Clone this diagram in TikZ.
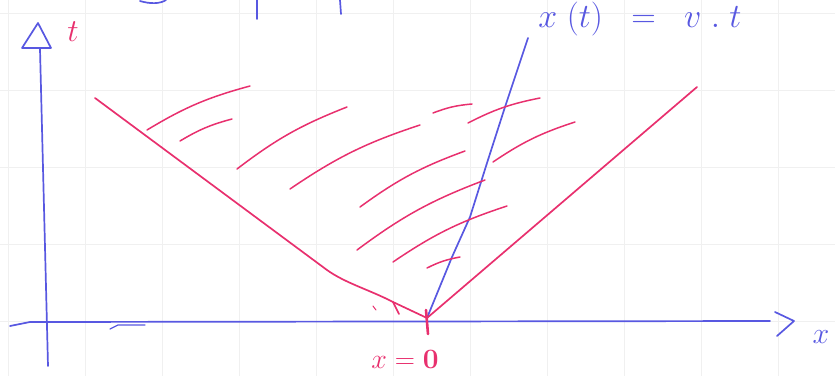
\RequirePackage{fix-cm}
\documentclass[tikz,border=0pt]{standalone}
\usepackage{amsmath}
\usepackage{amssymb}
\usepackage{xcolor}
\usepackage{tikz}

\definecolor{penblue}{RGB}{88,88,225}
\definecolor{penpink}{RGB}{232,48,110}
\tikzset{
  bluepen/.style={draw=penblue, line width=1.7pt, line cap=round, line join=round},
  pinkpen/.style={draw=penpink, line width=1.7pt, line cap=round, line join=round},
  hatch/.style={draw=penpink, line width=1.5pt, line cap=round},
  bluetext/.style={text=penblue, inner sep=0pt},
  pinktext/.style={text=penpink, inner sep=0pt},
}

\begin{document}
\begin{tikzpicture}[x=1pt,y=-1pt]
\useasboundingbox (0,0) rectangle (835,376);
\foreach \gx in {8,85,...,835}
    \draw[black!6, line width=0.5pt] (\gx,0) -- (\gx,376);
\foreach \gy in {13,90,...,376}
    \draw[black!6, line width=0.5pt] (0,\gy) -- (835,\gy);

\coordinate (O) at (427,318);
\coordinate (xa0) at (10,326);
\coordinate (xa1) at (770,321);
\coordinate (ya0) at (48,366);
\coordinate (ya1) at (40,49);
\coordinate (vtop) at (528,38);
\coordinate (ctop) at (697,87);
\coordinate (ltop) at (95,98);
\coordinate (kink) at (393,302);

% axes
\draw[bluepen] (xa0) -- (30,322) -- (xa1);
\draw[bluepen] (775,312) -- (794,321) -- (777,336);
\draw[bluepen] (ya0) -- (ya1);
\draw[bluepen] (22,48) -- (38,23) -- (51,48) -- cycle;
\draw[bluepen, line width=1.2pt] (110,329) -- (118,325) -- (145,325);

% bits of writing above
\draw[bluepen] (140,1) .. controls (150,4) and (160,4) .. (166,0);
\draw[bluepen] (257,0) -- (257,19);
\draw[bluepen] (340,0) -- (341,14);

\node[pinktext, font=\fontsize{32}{34}\selectfont] (tlab) at (73,32) {$t$};
\node[bluetext, font=\fontsize{30}{32}\selectfont] (xlab) at (821,337) {$x$};
\node[bluetext, font=\fontsize{34}{36}\selectfont] (xt) at (640,19) {$x\;(t)\;\;=\;\;v\;.\;t$};
\node[pinktext, font=\fontsize{28}{30}\selectfont] (x0) at (405,359) {$x = \mathbf{0}$};

% trajectory
\draw[bluepen] (O) -- (452,257) -- (470,217) -- (487,163) -- (505,107) -- (vtop);

% cone
\draw[pinkpen] (O) -- (ctop);
\draw[pinkpen] (ltop) -- (327,270) .. controls (345,283) and (370,290) .. (kink);
\draw[pinkpen] (kink) -- (399,314);
\draw[pinkpen] (kink) -- (O);
\draw[pinkpen, line width=2.6pt] (426,310) -- (428,334);
\draw[pinkpen, line width=1pt] (373,306) -- (376,310);

% hatching
\foreach \ax/\ay/\bx/\by in {147/130/250/86, 180/141/232/119, 237/169/347/107,
    290/189/420/125, 360/207/465/151, 357/250/485/180, 393/262/507/206,
    427/268/460/257, 433/113/472/104, 468/123/540/98, 493/162/575/122}
    \draw[hatch] (\ax,\ay) to[bend left=8] (\bx,\by);
\end{tikzpicture}
\end{document}
